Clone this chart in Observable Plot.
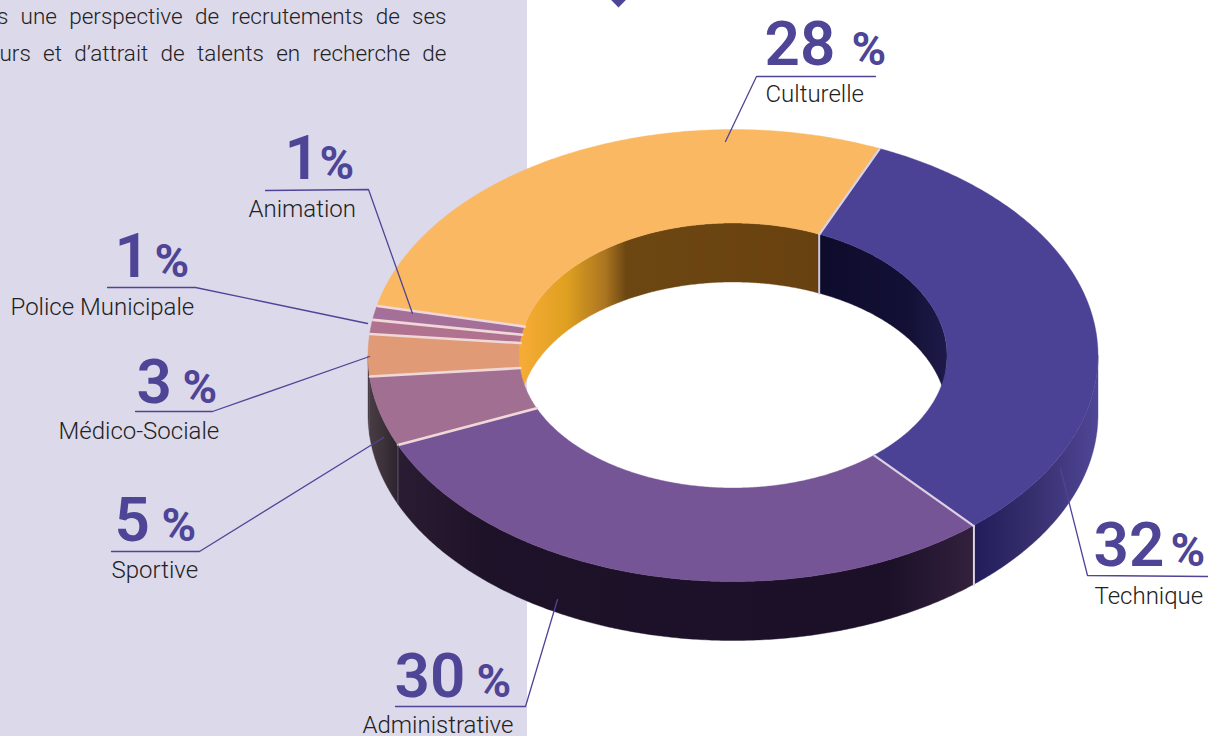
<!DOCTYPE html>
<html lang="fr">
<head>
<meta charset="utf-8">
<script src="https://cdn.jsdelivr.net/npm/d3@7"></script>
<script src="https://cdn.jsdelivr.net/npm/@observablehq/plot@0.6"></script>
<style>
html,body{margin:0;padding:0;background:#fff;overflow:hidden}
svg{display:block}
.body-text{word-spacing:6.8px}
</style>
</head>
<body>
<div id="chart"></div>
<script>
// ---- data (clockwise from the Culturelle / Technique boundary)
const categories = ["Technique","Administrative","Sportive","Médico-Sociale","Police Municipale","Animation","Culturelle"];
const values     = [32,30,5,3,1,1,28];
const topColors  = ["#4b4195","#765597","#a16f92","#e09a76","#b0728f","#a47099","#fbb863"];
const bodyLines  = ["s une perspective de recrutements de ses","urs et d’attrait de talents en recherche de"];

// ---- layout (annotation placement, in page pixels)
const numX   = [1093,394,114,136,114,284,764];
const pctX   = [1170,476,161,182,154,319,851];
const numY   = [565,696,540,402,276,178,64];
const labX   = [1094,362,111,58,10,248,765];
const labY   = [603,732,577,438,314,216,101];
const leaders = [
  [[1208,576],[1087,575],[1060,468]],
  [[395,706],[525,706],[557,599]],
  [[111,551],[199,551],[383,437]],
  [[135,411],[212,411],[369,356]],
  [[107,287],[195,287],[367,323]],
  [[265,190],[368,189],[412,313]],
  [[875,76],[756,76],[725,141]]
];

// ---- donut geometry
const cx = 733, startDeg = 23.6, depth = 59, depthIn = 59;
const outer = {rx:365, ry:226, cy:355.5};
const inner = {rx:214, ry:132.5, cy:355.5};
const P = (e,t,dy=0) => { const a = t*Math.PI/180; return [cx+e.rx*Math.sin(a), e.cy-e.ry*Math.cos(a)+dy]; };
const range = (a,b) => { const r=[]; const n=Math.max(2,Math.ceil(Math.abs(b-a)/0.5)); for(let i=0;i<=n;i++) r.push(a+(b-a)*i/n); return r; };

const total = d3.sum(values);
let acc = startDeg;
const slices = categories.map((name,i)=>{ const a0=acc; acc+=values[i]/total*360; return {name,a0,a1:acc,color:topColors[i]}; });
const overlap = (s,lo,hi) => { const a=Math.max(s.a0,lo), b=Math.min(s.a1,hi); return b>a ? [[a,b]] : []; };

const band = (ts, f1, f2, fill) => Plot.area(ts.map(t=>{const p=f1(t),q=f2(t);return {x1:p[0],y1:p[1],x2:q[0],y2:q[1]};}),
  {x1:"x1",y1:"y1",x2:"x2",y2:"y2",fill,curve:"linear",stroke:fill,strokeWidth:0.4});

// gradients for the shaded walls
const gradients = {
  wallTech:[975,1096,[[0,"#221d5a"],[.5,"#37306f"],[1,"#4f4596"]]],
  wallAdmin:[397,973,[[0,"#2a1c33"],[.15,"#1e1229"],[.85,"#1b1028"],[1,"#33203d"]]],
  wallSport:[366,397,[[0,"#4a3e48"],[.6,"#3c3138"],[1,"#2c2530"]]],
  inCult:[522,819,[[0,"#f6ab35"],[.15,"#dfa021"],[.28,"#ab7520"],[.35,"#6d4712"],[1,"#684110"]]],
  inTech:[819,945,[[0,"#0e0c2c"],[.7,"#131036"],[1,"#1d1a48"]]]
};
const defsMark = () => {
  const defs = d3.create("svg:defs");
  for (const [id,[x1,x2,stops]] of Object.entries(gradients)) {
    const g = defs.append("linearGradient").attr("id",id).attr("gradientUnits","userSpaceOnUse")
      .attr("x1",x1).attr("x2",x2).attr("y1",0).attr("y2",0);
    stops.forEach(([o,c])=>g.append("stop").attr("offset",o).attr("stop-color",c));
  }
  return defs.node();
};

const wallFill = ["url(#wallTech)","url(#wallAdmin)","url(#wallSport)","url(#wallSport)"];

// outer wall, front half only
const outerWalls = slices.flatMap((s,i)=> overlap(s,90,270).map(([a,b])=>
  band(range(a,b), t=>P(outer,t), t=>P(outer,t,depth), wallFill[i]||"#3c3138")));

// inner wall, back half only (covered by the top surface where hidden)
const innerWalls = [
  band(range(264,slices[6].a1), t=>P(inner,t), t=>P(inner,t,depthIn), "url(#inCult)"),
  band(range(startDeg,96), t=>P(inner,t), t=>P(inner,t,depthIn), "url(#inTech)")
];

const tops = slices.map(s => band(range(s.a0,s.a1), t=>P(outer,t), t=>P(inner,t), s.color));

const seps = slices.map((s,i)=>{ const p=P(outer,s.a0), q=P(inner,s.a0);
  return Plot.line([p,q],{stroke: i==0? "#d8d2ea" : i==1? "#dcd0e4" : "#f0d8d8", strokeWidth: i==0||i==1?2.2:2.6});
});
const edgeAt = a => [P(outer,a),P(outer,a,depth)];
const edges = [
  Plot.line(edgeAt(slices[1].a0),{stroke:"#d9d3e2",strokeWidth:2}),
  Plot.line(edgeAt(slices[2].a0),{stroke:"#5a4a60",strokeWidth:1}),
  Plot.line([P(inner,startDeg),P(inner,startDeg,depthIn)],{stroke:"#cfc9d8",strokeWidth:2})
];

const leaderMarks = leaders.map(l=>Plot.line(l,{stroke:"#4e4597",strokeWidth:1.3,curve:"linear"}));

const rows = categories.map((name,i)=>({name,v:String(values[i]),nx:numX[i],px:pctX[i],ny:numY[i],lx:labX[i],ly:labY[i]}));
const font = "Roboto";

const chart = Plot.plot({
  width:1208,height:736,margin:0,
  style:{background:"#fff",overflow:"hidden"},
  x:{domain:[0,1208],range:[0,1208],axis:null},
  y:{domain:[0,736],range:[0,736],axis:null},
  marks:[
    defsMark,
    Plot.rect([{}],{x1:()=>0,x2:()=>527,y1:()=>0,y2:()=>736,fill:"#dcd9ea"}),
    Plot.dot([{}],{x:()=>618,y:()=>-2,r:8,symbol:"diamond2",fill:"#4e4597"}),
    Plot.text(bodyLines,{x:()=>446,y:(d,i)=>[23,60][i],text:d=>d,textAnchor:"end",lineAnchor:"bottom",fontFamily:font,fontWeight:300,fontSize:22.5,fill:"#222",className:"body-text"}),
    ...outerWalls,
    ...innerWalls,
    ...tops,
    ...seps,
    ...edges,
    ...leaderMarks,
    Plot.text(rows,{x:"nx",y:"ny",text:"v",textAnchor:"start",lineAnchor:"bottom",fontFamily:font,fontWeight:600,fontSize:62,fill:"#4e4597"}),
    Plot.text(rows,{x:"px",y:"ny",text:()=>"%",textAnchor:"start",lineAnchor:"bottom",fontFamily:font,fontWeight:700,fontSize:47,fill:"#4e4597"}),
    Plot.text(rows,{x:"lx",y:"ly",text:"name",textAnchor:"start",lineAnchor:"bottom",fontFamily:font,fontWeight:300,fontSize:24,fill:"#222"})
  ]
});
document.getElementById("chart").append(chart);
</script>
</body>
</html>
